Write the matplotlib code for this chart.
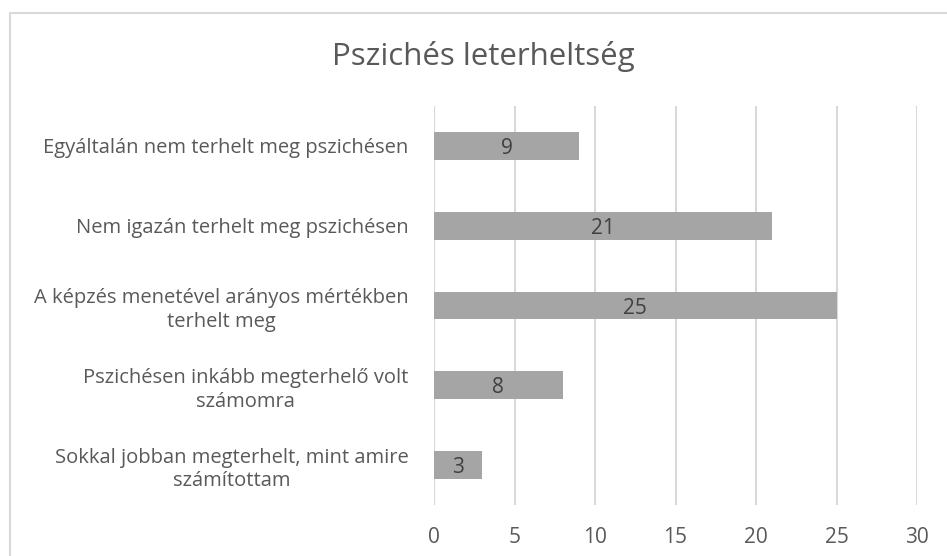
import matplotlib
matplotlib.use("Agg")
import matplotlib.pyplot as plt
from matplotlib.patches import Rectangle

title = "Pszichés leterheltség"
categories = [
    "Egyáltalán nem terhelt meg pszichésen",
    "Nem igazán terhelt meg pszichésen",
    "A képzés menetével arányos mértékben\nterhelt meg",
    "Pszichésen inkább megterhelő volt\nszámomra",
    "Sokkal jobban megterhelt, mint amire\nszámítottam",
]
values = [9, 21, 25, 8, 3]
xticks = [0, 5, 10, 15, 20, 25, 30]

plt.rcParams['font.family'] = ['Open Sans', 'DejaVu Sans']
text_color = "#595959"

fig = plt.figure(figsize=(9.47, 5.56), dpi=100)
fig.patches.append(Rectangle((10/947, -0.1), 1.2, 1 - 13/556 + 0.1,
                             transform=fig.transFigure, fill=False,
                             edgecolor="#D9D9D9", linewidth=1.5))
ax = fig.add_axes([434/947, 1 - 505/556, (917 - 434)/947, (505 - 106)/556])

ypos = list(range(len(categories)))
bars = ax.barh(ypos, values, height=0.35, color="#A5A5A5", zorder=3)
for y, v in zip(ypos, values):
    ax.text(v / 2, y, str(v), ha="center", va="center_baseline", fontsize=15,
            color="#404040", zorder=4)

ax.set_ylim(len(categories) - 0.5, -0.5)
ax.set_xlim(0, 30)
ax.set_xticks(xticks)
ax.set_yticks(ypos)
ax.set_yticklabels(categories, fontsize=14.5, color=text_color,
                   multialignment="center", linespacing=1.25)
ax.tick_params(axis="x", labelsize=15, labelcolor=text_color, length=0, pad=16)
ax.tick_params(axis="y", length=0, pad=18.5)
ax.grid(axis="x", color="#D9D9D9", linewidth=1.5, zorder=0)
for s in ax.spines.values():
    s.set_visible(False)

fig.text(483.5/947, 1 - 56/556, title, ha="center", va="center", fontsize=22.5,
         color=text_color)

fig.savefig("out.png", dpi=100)
